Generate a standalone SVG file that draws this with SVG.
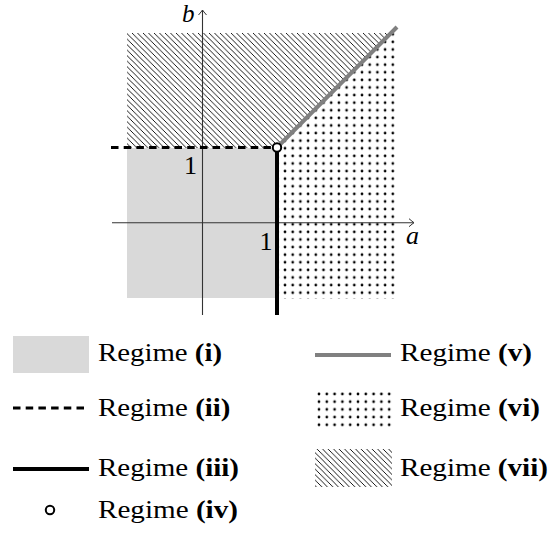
<svg xmlns="http://www.w3.org/2000/svg" width="555" height="541" viewBox="0 0 555 541" font-family="'Liberation Serif', 'DejaVu Serif', serif">
<defs>
<style>
text{font-family:"Liberation Serif","DejaVu Serif",serif;font-size:26px;fill:#000}
.it{font-style:italic}
.b{font-weight:bold}
.axis{stroke:#333;stroke-width:1.1;fill:none}
.gray{fill:#d9d9d9}
.dash{stroke:#000;stroke-width:3;stroke-dasharray:7.5 5.2;fill:none}
.thick{stroke:#000;stroke-width:4;fill:none}
.diag{stroke:#808080;stroke-width:4;fill:none}
.pt{fill:#fff;stroke:#000;stroke-width:2}
</style>
<pattern id="hatch" patternUnits="userSpaceOnUse" width="5.5" height="5.5">
<path d="M-1,-1 L6.5,6.5 M-1,4.5 L1,6.5 M4.5,-1 L6.5,1" stroke="#000" stroke-width="0.9"/>
</pattern>
<pattern id="dots" patternUnits="userSpaceOnUse" x="281.15" y="144.5" width="7.7" height="7.6">
<circle cx="3.85" cy="3.8" r="1.35" fill="#000"/>
</pattern>
<pattern id="dotsL" patternUnits="userSpaceOnUse" x="315.1" y="390.15" width="7.8" height="7.7">
<circle cx="3.9" cy="3.85" r="1.35" fill="#000"/>
</pattern>
<marker id="arr" viewBox="-6 -5 8 10" refX="0" refY="0" markerWidth="8" markerHeight="10" markerUnits="userSpaceOnUse" orient="auto">
<path d="M-5,-4 Q-1.5,-1 0,0 Q-1.5,1 -5,4" fill="none" stroke="#333" stroke-width="1"/>
</marker>
</defs>
<rect width="555" height="541" fill="#fff"/>

<g id="regions">
<rect id="region-i" class="gray" x="127" y="148" width="150" height="150"/>
<polygon id="region-vii" fill="url(#hatch)" points="127,33 392,33 277,148 127,148"/>
<polygon id="region-vi" fill="url(#dots)" points="279,146 392,33 395,33 395,299 279,299"/>
</g>

<g id="axes">
<line class="axis" x1="202.5" y1="315" x2="202.5" y2="10" marker-end="url(#arr)"/>
<line class="axis" x1="112" y1="222.7" x2="414" y2="222.7" marker-end="url(#arr)"/>
<text class="it" x="182" y="21.5" style="font-size:25px">b</text>
<text class="it" x="406" y="244">a</text>
<text x="190.5" y="174" text-anchor="middle">1</text>
<text x="266" y="250" text-anchor="middle">1</text>
</g>

<g id="connectors">
<line id="regime-ii" class="dash" x1="111" y1="147.5" x2="277" y2="147.5"/>
<line id="regime-iii" class="thick" x1="277" y1="148" x2="277" y2="315"/>
<line id="regime-v" class="diag" x1="277" y1="147.5" x2="397" y2="27"/>
</g>
<g id="regime-iv">
<circle class="pt" cx="277" cy="147.5" r="4.2"/>
</g>

<g id="legend">
<g id="leg-i">
<rect class="gray" x="13" y="336" width="76" height="37"/>
<text x="98" y="361" textLength="124" lengthAdjust="spacingAndGlyphs">Regime <tspan class="b">(i)</tspan></text>
</g>
<g id="leg-ii">
<line class="dash" x1="13" y1="408" x2="89" y2="408"/>
<text x="98" y="416" textLength="132.5" lengthAdjust="spacingAndGlyphs">Regime <tspan class="b">(ii)</tspan></text>
</g>
<g id="leg-iii">
<line class="thick" x1="13" y1="469" x2="89" y2="469"/>
<text x="98" y="476" textLength="141" lengthAdjust="spacingAndGlyphs">Regime <tspan class="b">(iii)</tspan></text>
</g>
<g id="leg-iv">
<circle class="pt" cx="50" cy="510" r="4.2"/>
<text x="98" y="518" textLength="140" lengthAdjust="spacingAndGlyphs">Regime <tspan class="b">(iv)</tspan></text>
</g>
<g id="leg-v">
<line class="diag" x1="315" y1="355" x2="391" y2="355"/>
<text x="400" y="361" textLength="132" lengthAdjust="spacingAndGlyphs">Regime <tspan class="b">(v)</tspan></text>
</g>
<g id="leg-vi">
<rect fill="url(#dotsL)" x="315" y="390" width="78" height="38"/>
<text x="400" y="416" textLength="140" lengthAdjust="spacingAndGlyphs">Regime <tspan class="b">(vi)</tspan></text>
</g>
<g id="leg-vii">
<rect fill="url(#hatch)" x="315" y="449" width="77" height="38"/>
<text x="400" y="476" textLength="148" lengthAdjust="spacingAndGlyphs">Regime <tspan class="b">(vii)</tspan></text>
</g>
</g>
</svg>
